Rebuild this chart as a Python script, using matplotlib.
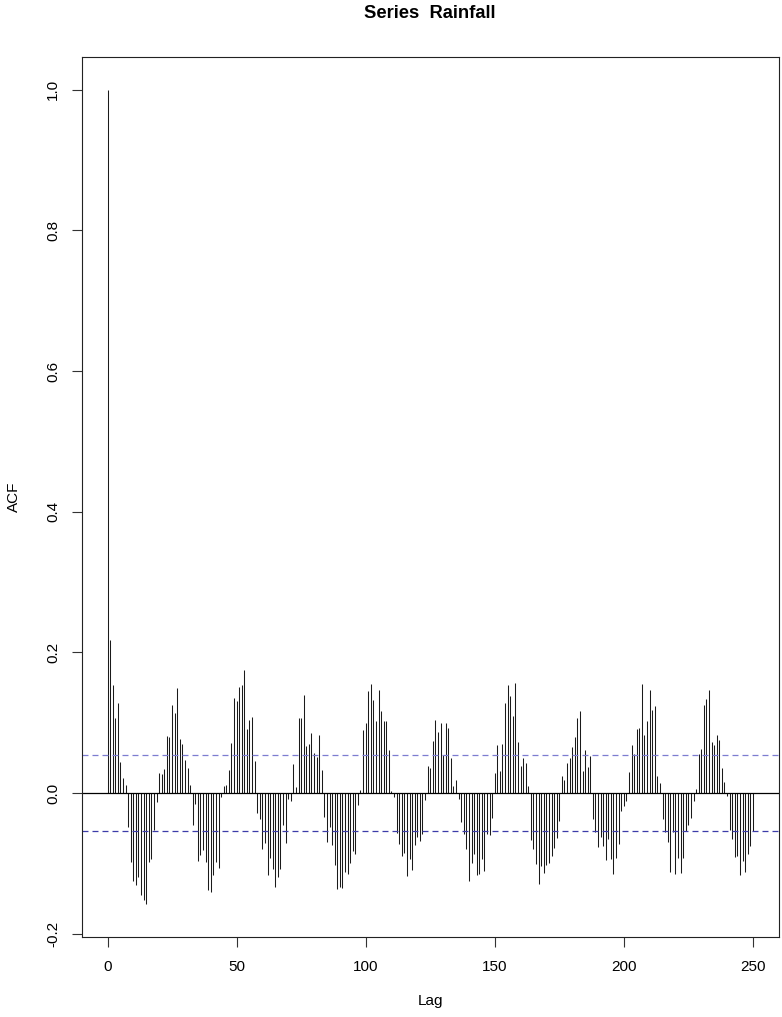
import matplotlib
matplotlib.use("Agg")
import matplotlib.pyplot as plt

plt.rcParams['font.family'] = ['Liberation Sans', 'DejaVu Sans']
plt.rcParams['lines.scale_dashes'] = False

# ACF of the Rainfall series, lags 0..250
lags = list(range(251))
acf_values = [
    1.000, 0.218, 0.153, 0.106, 0.128, 0.044, 0.022, 0.012, -0.048, -0.098,
    -0.125, -0.131, -0.120, -0.145, -0.152, -0.158, -0.098, -0.094, -0.052, -0.013,
    0.028, 0.027, 0.034, 0.081, 0.080, 0.125, 0.114, 0.149, 0.077, 0.070,
    0.047, 0.036, 0.011, -0.046, -0.016, -0.097, -0.088, -0.081, -0.098, -0.138,
    -0.141, -0.117, -0.098, -0.107, -0.006, 0.010, 0.011, 0.033, 0.071, 0.135,
    0.131, 0.151, 0.153, 0.175, 0.091, 0.104, 0.108, 0.046, -0.029, -0.037,
    -0.079, -0.071, -0.117, -0.092, -0.108, -0.133, -0.120, -0.108, -0.046, -0.071,
    -0.009, -0.012, 0.041, 0.009, 0.106, 0.106, 0.140, 0.067, 0.069, 0.085,
    0.057, 0.051, 0.082, 0.032, -0.034, -0.069, -0.048, -0.074, -0.102, -0.136,
    -0.134, -0.135, -0.112, -0.115, -0.100, -0.083, -0.087, -0.017, 0.004, 0.089,
    0.100, 0.145, 0.155, 0.132, 0.103, 0.147, 0.116, 0.103, 0.103, 0.061,
    0.003, -0.006, -0.057, -0.072, -0.089, -0.086, -0.118, -0.094, -0.109, -0.074,
    -0.062, -0.068, -0.058, -0.010, 0.039, 0.035, 0.074, 0.104, 0.087, 0.099,
    0.054, 0.099, 0.093, 0.050, 0.010, 0.018, -0.008, -0.041, -0.058, -0.080,
    -0.125, -0.100, -0.087, -0.116, -0.115, -0.094, -0.111, -0.058, -0.060, -0.036,
    0.029, 0.068, 0.031, 0.070, 0.128, 0.153, 0.138, 0.110, 0.156, 0.073,
    0.038, 0.050, 0.042, 0.010, -0.067, -0.079, -0.101, -0.129, -0.104, -0.114,
    -0.102, -0.099, -0.090, -0.078, -0.064, -0.040, 0.024, 0.018, 0.042, 0.050,
    0.065, 0.080, 0.106, 0.116, 0.031, 0.061, 0.037, 0.052, -0.037, -0.056,
    -0.077, -0.062, -0.075, -0.095, -0.065, -0.094, -0.115, -0.092, -0.072, -0.026,
    -0.019, -0.012, 0.030, 0.068, 0.056, 0.091, 0.093, 0.155, 0.083, 0.103,
    0.146, 0.118, 0.123, 0.024, 0.014, -0.037, -0.056, -0.070, -0.113, -0.055,
    -0.115, -0.092, -0.114, -0.093, -0.054, -0.045, -0.035, -0.011, 0.005, 0.056,
    0.062, 0.125, 0.133, 0.146, 0.072, 0.068, 0.083, 0.075, 0.036, 0.016,
    -0.005, -0.053, -0.066, -0.091, -0.090, -0.116, -0.097, -0.113, -0.087, -0.075,
    -0.054,
]
conf_limit = 0.054

x_ticks = [0, 50, 100, 150, 200, 250]
y_ticks = [-0.2, 0.0, 0.2, 0.4, 0.6, 0.8, 1.0]

W, H = 782, 1017
fig = plt.figure(figsize=(W / 100, H / 100), dpi=100)
left, right, top, bottom = 81.7, 778.7, 57.0, 936.7
ax = fig.add_axes([left / W, 1 - bottom / H, (right - left) / W, (bottom - top) / H])

ax.vlines(lags, 0, acf_values, color='#1a1a1a', lw=0.75)
ax.axhline(0, color='black', lw=0.9)
ax.axhline(conf_limit, color='#7c7cd0', lw=0.9, ls=(0, (4.3, 2.9)))
ax.axhline(-conf_limit, color='#3c3ca8', lw=0.9, ls=(0, (4.3, 2.9)))

lo = min(min(acf_values), -conf_limit)
hi = max(max(acf_values), conf_limit)
pad = (hi - lo) * 0.04
ax.set_ylim(lo - pad, hi + pad)
ax.set_xlim(-0.04 * 250, 250 * 1.04)

ax.set_xticks(x_ticks)
ax.set_xticklabels([str(t) for t in x_ticks])
ax.set_yticks(y_ticks)
ax.set_yticklabels(['%.1f' % t for t in y_ticks], rotation=90, va='center')

ax.tick_params(direction='out', length=7.2, width=0.8, labelsize=11, color='#333333')
ax.tick_params(axis='x', pad=9.5)
ax.tick_params(axis='y', pad=8.4)
for sp in ax.spines.values():
    sp.set_linewidth(0.8)
    sp.set_color('#222222')

cx = (left + right) / 2 / W
fig.text(cx, 1 - 14 / H, 'Series  Rainfall', ha='center', va='center',
         fontsize=13.2, fontweight='bold')
fig.text(cx, 1 - 1001 / H, 'Lag', ha='center', va='center', fontsize=11)
fig.text(14 / W, 1 - (top + bottom) / 2 / H, 'ACF', ha='center', va='center',
         rotation=90, fontsize=11)

fig.savefig('out.png', dpi=100)
